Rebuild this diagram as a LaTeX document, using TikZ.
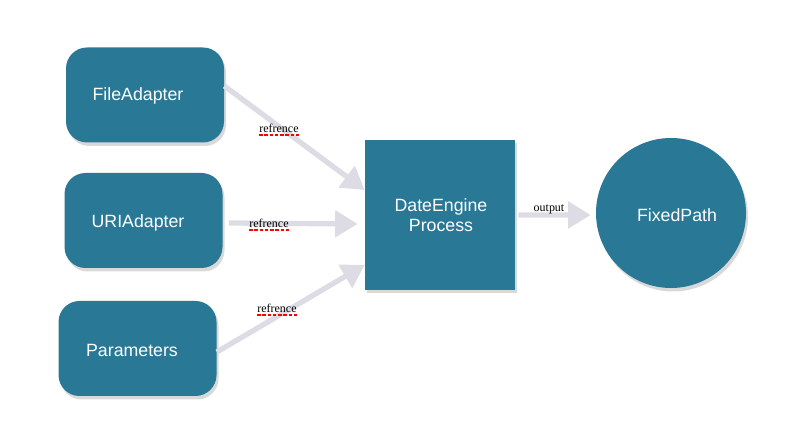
\documentclass[tikz,border=0pt]{standalone}
\usepackage{xcolor}
\usepackage{fontspec}
\setmainfont{Liberation Sans}
\newfontfamily\notefont{Liberation Serif}
\usepackage{tikz}
\usetikzlibrary{arrows.meta}
\usetikzlibrary{shadows}

\definecolor{boxblue}{RGB}{40,120,150}
\definecolor{arrowgray}{RGB}{221,219,228}

\begin{document}
\begin{tikzpicture}[
    block/.style={fill=boxblue, drop shadow={shadow xshift=0.04cm, shadow yshift=-0.07cm, opacity=0.3}},
    adapter/.style={block, rounded corners=0.42cm, minimum width=3.16cm, minimum height=1.9cm},
    boxtext/.style={text=white, font=\fontsize{10.1}{11.4}\selectfont, align=center, inner sep=0pt},
    flow/.style={draw=arrowgray, line width=3pt, -{Triangle[length=0.45cm, width=0.52cm]}},
    note/.style={font=\notefont\fontsize{6.8}{8}\selectfont, inner sep=0pt},
    spell/.style={red, line width=1.2pt, dash pattern=on 2pt off 1pt}
]
    \useasboundingbox (0,0) rectangle (15.96,8.84);
    \node[adapter] (file) at (2.90,6.94) {};
    \node[adapter] (uri) at (2.87,4.43) {};
    \node[adapter] (params) at (2.75,1.87) {};
    \node[block, minimum size=3cm] (engine) at (8.80,4.54) {};
    \node[block, circle, minimum size=3cm] (fixed) at (13.42,4.58) {};

    \node[boxtext] (filetext) at (2.76,6.92) {FileAdapter};
    \node[boxtext] (uritext) at (2.76,4.38) {URIAdapter};
    \node[boxtext] (paramstext) at (2.64,1.84) {Parameters};
    \node[boxtext] (enginetext) at (8.82,4.54) {DateEngine\\Process};
    \node[boxtext] (fixedtext) at (13.54,4.54) {FixedPath};

    \draw[flow] ([yshift=0.18cm]file.east) -- ([yshift=0.5cm]engine.west);
    \draw[flow] ([xshift=0.12cm,yshift=-0.05cm]uri.east) -- ([xshift=-0.14cm,yshift=-0.18cm]engine.west);
    \draw[flow] ([yshift=-0.07cm]params.east) -- ([yshift=-1cm]engine.west);
    \draw[flow] ([xshift=0.06cm]engine.east) -- ([xshift=-0.1cm,yshift=-0.04cm]fixed.west);

    \node[note] (ref1) at (5.58,6.28) {refrence};
    \node[note] (ref2) at (5.38,4.38) {refrence};
    \node[note] (ref3) at (5.54,2.68) {refrence};
    \node[note] (out) at (10.98,4.66) {output};
    \draw[spell] ([yshift=-0.05cm]ref1.south west) -- ([yshift=-0.05cm]ref1.south east);
    \draw[spell] ([yshift=-0.05cm]ref2.south west) -- ([yshift=-0.05cm]ref2.south east);
    \draw[spell] ([yshift=-0.05cm]ref3.south west) -- ([yshift=-0.05cm]ref3.south east);
\end{tikzpicture}
\end{document}
